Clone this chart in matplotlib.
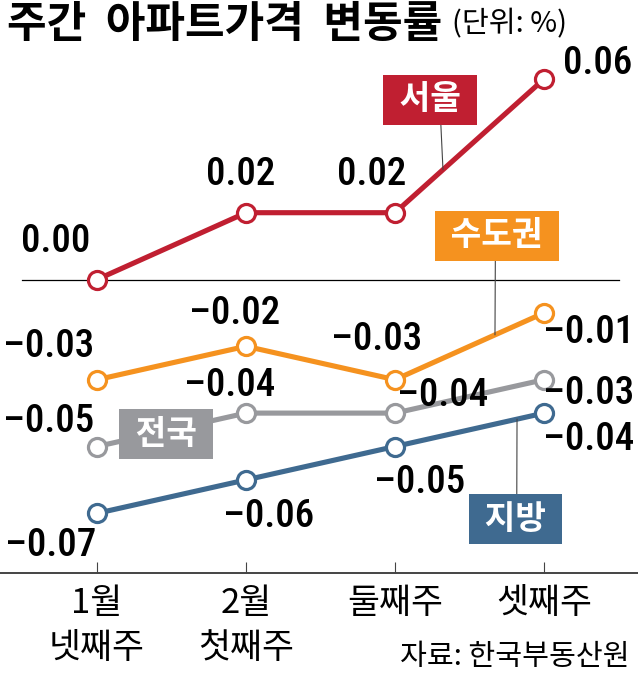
import matplotlib
matplotlib.use("Agg")
import matplotlib.pyplot as plt
from matplotlib import font_manager as fm

# ---------------- data ----------------
categories = ["1월\n넷째주", "2월\n첫째주", "둘째주", "셋째주"]
seoul = [0.00, 0.02, 0.02, 0.06]
capital = [-0.03, -0.02, -0.03, -0.01]
nation = [-0.05, -0.04, -0.04, -0.03]
local = [-0.07, -0.06, -0.05, -0.04]
series_names = ["서울", "수도권", "전국", "지방"]

title = "주간  아파트가격  변동률"
unit = "(단위: %)"
source = "자료: 한국부동산원"

# ---------------- style ----------------
colors = {"서울": "#C01F31", "수도권": "#F5921F", "전국": "#98999D", "지방": "#3F6A90"}
KR = ["Noto Sans CJK KR", "DejaVu Sans"]
plt.rcParams["font.family"] = KR
plt.rcParams["axes.unicode_minus"] = True


def find_condensed():
    prefs = ["Liberation Sans Narrow", "Roboto Condensed", "Noto Sans", "Open Sans",
             "DejaVu Sans", "Arial Narrow"]
    best = None
    for f in fm.fontManager.ttflist:
        st = str(f.stretch)
        nm = f.name
        condensed = ("Narrow" in nm or "Condensed" in nm or
                     st in ("condensed", "semi-condensed", "extra-condensed", "375", "500", "750"))
        if not condensed or f.style != "normal":
            continue
        try:
            w = int(f.weight)
        except Exception:
            w = {"normal": 400, "regular": 400, "medium": 500, "book": 400}.get(str(f.weight), 700)
        if w < 400 or w > 500:
            continue
        if "Mono" in nm or "Serif" in nm:
            continue
        rank = prefs.index(nm) if nm in prefs else len(prefs)
        key = (rank, abs(w - 500))
        if best is None or key < best[0]:
            best = (key, f.fname)
    return best[1] if best else None


cond_path = find_condensed()
if cond_path:
    NUMFP = fm.FontProperties(fname=cond_path, size=28)
else:
    NUMFP = fm.FontProperties(family=["Liberation Sans", "DejaVu Sans"], size=23)

# label offsets (pixels, from each marker) for the value labels
offsets = {
    "서울": [(-41, 38), (-5, 38), (-23, 38), (54, 16)],
    "수도권": [(-48, 33), (-11, 33), (-18, 40), (45, -20)],
    "전국": [(-48, 25), (-16, 28), (48, 18), (45, -14)],
    "지방": [(-46, -32), (23, -37), (25, -36), (45, -26)],
}

W, H = 638, 674
fig = plt.figure(figsize=(W / 100, H / 100), dpi=100)
fig.patch.set_facecolor("white")
ax_bottom_px = 573
ax = fig.add_axes([0, (H - ax_bottom_px) / H, 1, ax_bottom_px / H])

px_per_unit = 3340.0
zero_px = 279.5
x0_px, dx_px = 97.0, 149.0
ax.set_xlim(-x0_px / dx_px, (W - x0_px) / dx_px)
ax.set_ylim(-(ax_bottom_px - zero_px) / px_per_unit, zero_px / px_per_unit)

for s in ["top", "left", "right"]:
    ax.spines[s].set_visible(False)
ax.spines["bottom"].set_color("#444444")
ax.spines["bottom"].set_linewidth(1.4)
ax.set_yticks([])
xs = list(range(len(categories)))
ax.set_xticks(xs)
ax.set_xticklabels(categories, fontsize=25, linespacing=1.4)
ax.tick_params(axis="x", direction="in", length=8, width=0.8, color="#444444", pad=9)
for lab in ax.get_xticklabels():
    lab.set_family(KR)

ax.axhline(0, xmin=22 / W, xmax=619 / W, color="black", lw=0.9, zorder=1)

data = {"서울": seoul, "수도권": capital, "전국": nation, "지방": local}
for name in series_names:
    vals = data[name]
    c = colors[name]
    ax.plot(xs, vals, color=c, lw=3.7, marker="o", ms=13, mfc="white",
            mec=c, mew=2.3, zorder=3, solid_capstyle="round")
    for i, v in enumerate(vals):
        txt = "–%.2f" % abs(v) if v < 0 else "%.2f" % v
        ax.annotate(txt, xy=(i, v), xytext=offsets[name][i], textcoords="offset pixels",
                    ha="center", va="center", fontproperties=NUMFP, color="black",
                    zorder=5)

# ---------------- name boxes ----------------
def seg_point(vals, i, t):
    return (i + t, vals[i] + t * (vals[i + 1] - vals[i]))

box_specs = [
    # name, segment start, fraction, text offset (px), leader relpos
    ("서울", 2, 0.322, (-13, 70), (0.637, 0.0)),
    ("수도권", 2, 0.671, (2, 99), (0.485, 0.0)),
    ("전국", 0, 0.463, (0, -3), None),
    ("지방", 2, 0.819, (-1.5, -100), (0.516, 1.0)),
]
for name, i, t, off, rel in box_specs:
    xy = seg_point(data[name], i, t)
    kw = dict(xy=xy, xytext=off, textcoords="offset pixels", ha="center", va="center",
              fontsize=24, fontweight="bold", color="white", family=KR, zorder=6,
              bbox=dict(boxstyle="square,pad=0.26", fc=colors[name], ec="none"))
    if rel is not None:
        kw["arrowprops"] = dict(arrowstyle="-", color="#444444", lw=0.8, relpos=rel,
                                shrinkA=0, shrinkB=0)
    ax.annotate(" " + name + " ", **kw)

# ---------------- titles ----------------
t = fig.text(7 / W, 1 - 24 / H, title, fontsize=31, fontweight="bold", ha="left",
             va="center", family=KR)
ax.annotate(unit, xy=(1, 0.5), xycoords=t, xytext=(10, 0), textcoords="offset pixels",
            fontsize=21, ha="left", va="center", family=KR, annotation_clip=False)
fig.text(630 / W, 1 - 657 / H, source, fontsize=21, ha="right", va="center", family=KR)

fig.savefig("out.png", dpi=100, facecolor="white")
